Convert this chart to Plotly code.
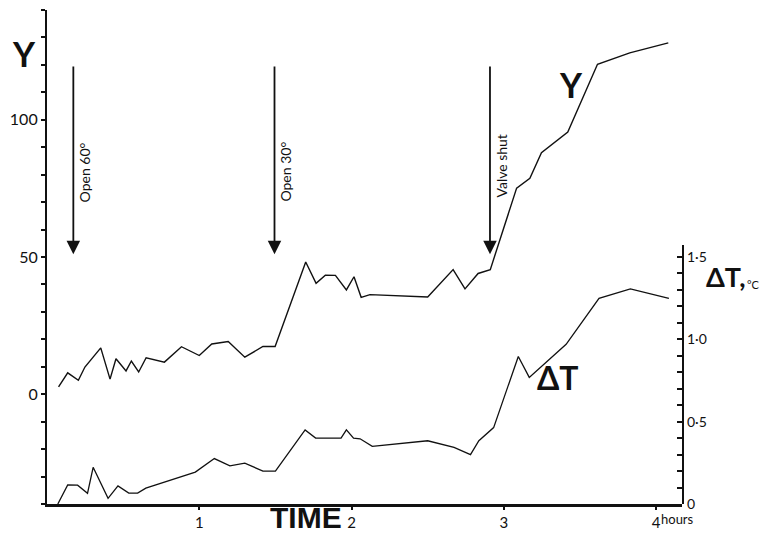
import plotly.graph_objects as go

# ---- data ----
y_hours = [0.076, 0.136, 0.206, 0.249, 0.353, 0.414, 0.453, 0.519, 0.554, 0.602,
           0.651, 0.771, 0.883, 1.000, 1.082, 1.190, 1.299, 1.418, 1.498, 1.699,
           1.767, 1.828, 1.894, 1.966, 2.016, 2.063, 2.121, 2.500, 2.667, 2.745,
           2.831, 2.911, 3.084, 3.171, 3.247, 3.420, 3.615, 3.827, 4.080]
y_values = [2.7, 7.8, 5.1, 9.9, 16.9, 5.5, 12.9, 8.5, 12.1, 8.1,
            13.3, 11.7, 17.3, 14.1, 18.3, 19.2, 13.5, 17.4, 17.4, 48.2,
            40.4, 43.4, 43.3, 38.0, 42.8, 35.3, 36.3, 35.4, 45.4, 38.4,
            44.0, 45.4, 75.1, 78.7, 88.0, 95.5, 120.2, 124.4, 128.0]

dt_hours = [0.071, 0.136, 0.201, 0.266, 0.303, 0.346, 0.401, 0.466, 0.537, 0.595,
            0.649, 0.974, 1.099, 1.201, 1.299, 1.418, 1.500, 1.695, 1.764, 1.931,
            1.966, 2.013, 2.056, 2.136, 2.500, 2.673, 2.781, 2.836, 2.933, 3.095,
            3.167, 3.409, 3.625, 3.831, 4.084]
dt_values = [0.0, 0.116, 0.114, 0.065, 0.223, 0.140, 0.034, 0.110, 0.066, 0.066,
             0.096, 0.194, 0.276, 0.232, 0.248, 0.200, 0.200, 0.450, 0.400, 0.400,
             0.450, 0.400, 0.396, 0.350, 0.384, 0.344, 0.300, 0.384, 0.464, 0.896,
             0.769, 0.970, 1.249, 1.306, 1.249]

event_hours = [0.173, 1.494, 2.909]
event_labels = ["Open 60°", "Open 30°", "Valve shut"]
event_label_y = [81.0, 81.0, 83.0]

x_tick_vals = [1, 2, 3, 4]
x_tick_text = ["1", "2", "3", "4"]
y_tick_vals = list(range(-40, 141, 10))
y_tick_text = [str(v) if v in (0, 50, 100) else "" for v in y_tick_vals]
dt_tick_vals = [round(i * 0.1, 1) for i in range(0, 16)]
dt_tick_text = {0.0: "0", 0.5: "0·5", 1.0: "1·0", 1.5: "1·5"}

FONT = "Lato, Open Sans, DejaVu Sans, sans-serif"
BIG = "Liberation Sans Narrow, Arial Narrow, Liberation Sans, sans-serif"
INK = "#111111"

fig = go.Figure()
fig.add_trace(go.Scatter(x=y_hours, y=y_values, mode="lines",
                         line=dict(color=INK, width=1.4), xaxis="x", yaxis="y",
                         showlegend=False, hoverinfo="skip", cliponaxis=False))
fig.add_trace(go.Scatter(x=dt_hours, y=dt_values, mode="lines",
                         line=dict(color=INK, width=1.3), xaxis="x", yaxis="y2",
                         showlegend=False, hoverinfo="skip", cliponaxis=False))

annotations = []
for h, lab, ly in zip(event_hours, event_labels, event_label_y):
    annotations.append(dict(x=h, y=51, xref="x", yref="y", ax=h, ay=120,
                            axref="x", ayref="y", text="", showarrow=True,
                            arrowhead=2, arrowsize=1.5, arrowwidth=1.8,
                            arrowcolor=INK))
    annotations.append(dict(x=h + 0.073, y=ly, xref="x", yref="y", text=lab,
                            showarrow=False, textangle=-90,
                            xanchor="center", yanchor="middle",
                            font=dict(family=FONT, size=14, color=INK)))

annotations += [
    dict(x=-0.036, y=124.3, xref="paper", yref="y", text="<b>Y</b>", showarrow=False,
         xanchor="center", yanchor="middle",
         font=dict(family=FONT, size=34, color=INK)),
    dict(x=3.44, y=112.8, xref="x", yref="y", text="<b>Y</b>", showarrow=False,
         xanchor="center", yanchor="middle",
         font=dict(family=FONT, size=34, color=INK)),
    dict(x=3.357, y=0.768, xref="x", yref="y2", text="<b>ΔT</b>", showarrow=False,
         xanchor="center", yanchor="middle",
         font=dict(family=FONT, size=32, color=INK)),
    dict(x=1.034, y=1.38, xref="paper", yref="y2", text="<b>ΔT,</b>", showarrow=False,
         xanchor="left", yanchor="middle",
         font=dict(family=FONT, size=27, color=INK)),
    dict(x=1.099, y=1.33, xref="paper", yref="y2", text="°C", showarrow=False,
         xanchor="left", yanchor="middle",
         font=dict(family=FONT, size=11, color=INK)),
    dict(x=1.70, y=-0.028, xref="x", yref="paper", text="<b>TIME</b>", showarrow=False,
         xanchor="center", yanchor="middle",
         font=dict(family=BIG, size=30, color=INK)),
    dict(x=4.0, y=-0.031, xref="x", yref="paper", text="hours", showarrow=False,
         xanchor="left", yanchor="middle", xshift=3,
         font=dict(family=FONT, size=13, color=INK)),
]

fig.update_layout(
    width=761, height=541,
    margin=dict(l=40, r=79, t=10, b=31),
    paper_bgcolor="white", plot_bgcolor="rgba(0,0,0,0)",
    showlegend=False,
    xaxis=dict(range=[0, 4.17], showgrid=False, zeroline=False, showline=True,
               linecolor=INK, linewidth=2.5, ticks="outside", ticklen=3,
               tickwidth=1.5, tickcolor=INK, tickvals=x_tick_vals,
               ticktext=x_tick_text, tickfont=dict(family=FONT, size=15, color=INK)),
    yaxis=dict(range=[-40, 140], domain=[0, 1], showgrid=False, zeroline=False,
               showline=True, linecolor=INK, linewidth=2.2, ticks="outside",
               ticklen=4, tickwidth=1.5, tickcolor=INK, tickvals=y_tick_vals,
               ticktext=y_tick_text, tickfont=dict(family=FONT, size=16, color=INK)),
    yaxis2=dict(range=[0, 1.572], domain=[0, 0.524], anchor="x", side="right",
                showgrid=False, zeroline=False, showline=True, linecolor=INK,
                linewidth=2.2, ticks="inside", ticklen=5, tickwidth=1.5,
                tickcolor=INK, tickvals=dt_tick_vals,
                ticktext=[dt_tick_text.get(v, "") for v in dt_tick_vals],
                tickfont=dict(family=FONT, size=14, color=INK)),
    annotations=annotations,
)

fig.write_html("out.html")
